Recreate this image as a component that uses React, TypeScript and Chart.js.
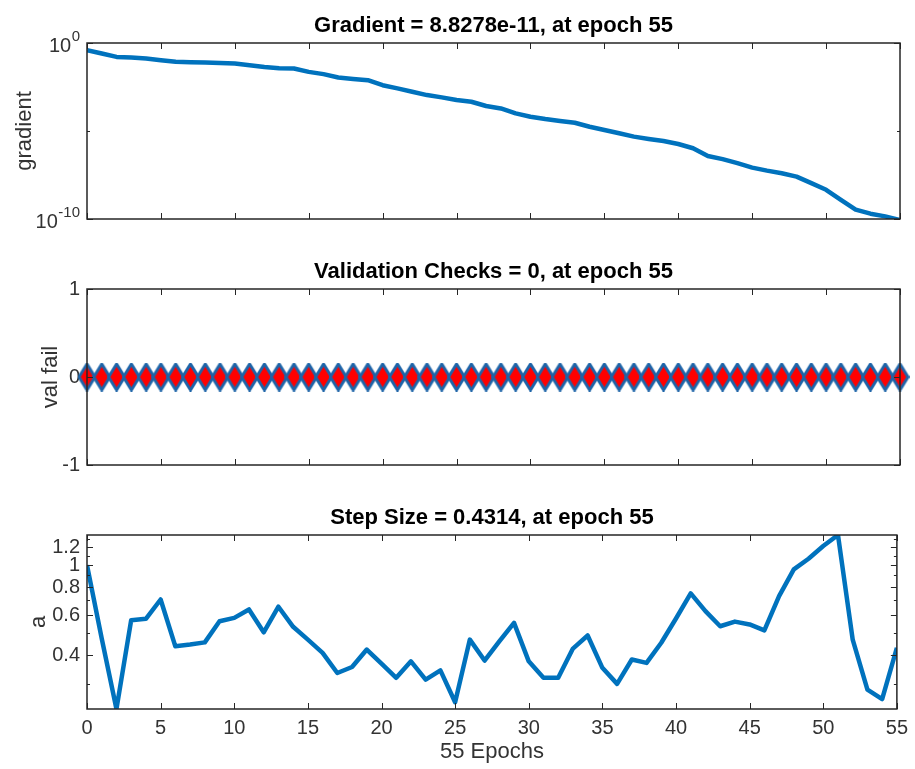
import React, { useEffect, useRef } from "react";
import { Chart, registerables } from "chart.js";

Chart.register(...registerables);

// ---- data -------------------------------------------------------------
const epochs = [
  0, 1, 2, 3, 4, 5, 6, 7, 8, 9, 10, 11, 12, 13, 14, 15, 16, 17, 18, 19, 20,
  21, 22, 23, 24, 25, 26, 27, 28, 29, 30, 31, 32, 33, 34, 35, 36, 37, 38, 39,
  40, 41, 42, 43, 44, 45, 46, 47, 48, 49, 50, 51, 52, 53, 54, 55,
];

const gradient = [
  0.389, 0.251, 0.162, 0.148, 0.132, 0.105, 0.0851, 0.0813, 0.0776, 0.0741,
  0.0676, 0.055, 0.0437, 0.0372, 0.0355, 0.0229, 0.017, 0.011, 0.00912,
  0.00776, 0.00398, 0.00263, 0.0017, 0.0011, 0.000813, 0.000575, 0.000457,
  0.000263, 0.000191, 0.0001, 6.46e-5, 4.79e-5, 3.72e-5, 2.95e-5, 1.74e-5,
  1.15e-5, 7.41e-6, 4.79e-6, 3.55e-6, 2.69e-6, 1.82e-6, 1.05e-6, 3.8e-7,
  2.51e-7, 1.48e-7, 8.32e-8, 5.62e-8, 3.98e-8, 2.57e-8, 1.1e-8, 4.57e-9,
  1.23e-9, 3.39e-10, 2.0e-10, 1.41e-10, 8.8278e-11,
];

const valFail = [
  0, 0, 0, 0, 0, 0, 0, 0, 0, 0, 0, 0, 0, 0, 0, 0, 0, 0, 0, 0, 0, 0, 0, 0, 0,
  0, 0, 0, 0, 0, 0, 0, 0, 0, 0, 0, 0, 0, 0, 0, 0, 0, 0, 0, 0, 0, 0, 0, 0, 0,
  0, 0, 0, 0, 0, 0,
];

const stepSize = [
  1.0, 0.474, 0.2316, 0.571, 0.579, 0.705, 0.438, 0.446, 0.456, 0.565, 0.585,
  0.637, 0.505, 0.655, 0.534, 0.469, 0.41, 0.334, 0.355, 0.424, 0.367, 0.318,
  0.376, 0.312, 0.343, 0.248, 0.469, 0.379, 0.461, 0.556, 0.376, 0.318, 0.318,
  0.428, 0.489, 0.352, 0.299, 0.383, 0.37, 0.454, 0.581, 0.75, 0.626, 0.537,
  0.563, 0.547, 0.515, 0.729, 0.957, 1.067, 1.214, 1.358, 0.469, 0.282, 0.256,
  0.4314,
];

const epochTicks = [0, 5, 10, 15, 20, 25, 30, 35, 40, 45, 50, 55];
const gradientTicks = [1e-10, 1e0];
const gradientMinorTicks = [1e-5];
const gradientTickExponents = ["-10", "0"];
const valFailTicks = [-1, 0, 1];
const stepTicks = [0.4, 0.6, 0.8, 1, 1.2];
const stepMinorTicks = [0.3, 0.5, 0.7, 0.9, 1.1, 1.3];

const gradientTitle = "Gradient = 8.8278e-11, at epoch 55";
const valFailTitle = "Validation Checks = 0, at epoch 55";
const stepTitle = "Step Size = 0.4314, at epoch 55";

// ---- styling ----------------------------------------------------------
const W = 915;
const PLOT_LEFT = 87;
const PLOT_RIGHT = 900;
const BLUE = "#0072BD";
const MARKER_EDGE = "#1d64a8";
const RED = "#ff0000";
const AXIS = "#262626";
const TEXT = "#333333";
const FONT = "'Liberation Sans', Arial, Helvetica, sans-serif";

// Box, inward tick marks, titles and axis labels in the classic figure style.
const figureAxes = {
  id: "figureAxes",
  afterDraw(chart: any, _args: any, opts: any) {
    const { ctx, chartArea: a, scales } = chart;
    const xs = scales.x;
    const ys = scales.y;
    ctx.save();

    // tick marks pointing into the box on all four sides
    ctx.strokeStyle = AXIS;
    ctx.lineWidth = 1;
    ctx.beginPath();
    for (const v of epochTicks) {
      const px = Math.round(xs.getPixelForValue(v)) + 0.5;
      ctx.moveTo(px, a.bottom);
      ctx.lineTo(px, a.bottom - 6);
      ctx.moveTo(px, a.top);
      ctx.lineTo(px, a.top + 6);
    }
    for (const v of opts.yMajor || []) {
      const py = Math.round(ys.getPixelForValue(v)) + 0.5;
      ctx.moveTo(a.left, py);
      ctx.lineTo(a.left + 6, py);
      ctx.moveTo(a.right, py);
      ctx.lineTo(a.right - 6, py);
    }
    for (const v of opts.yMinor || []) {
      const py = Math.round(ys.getPixelForValue(v)) + 0.5;
      ctx.moveTo(a.left, py);
      ctx.lineTo(a.left + 3, py);
      ctx.moveTo(a.right, py);
      ctx.lineTo(a.right - 3, py);
    }
    ctx.stroke();

    // axes box
    ctx.lineWidth = 1.5;
    ctx.strokeRect(a.left, a.top, a.right - a.left, a.bottom - a.top);

    // title
    ctx.fillStyle = "#000";
    ctx.font = `bold 22px ${FONT}`;
    ctx.textAlign = "center";
    ctx.textBaseline = "middle";
    ctx.fillText(opts.title, (a.left + a.right) / 2, a.top - 17.5);

    // y label
    ctx.fillStyle = TEXT;
    ctx.font = `22px ${FONT}`;
    ctx.save();
    ctx.translate(opts.yLabelX, (a.top + a.bottom) / 2);
    ctx.rotate(-Math.PI / 2);
    ctx.fillText(opts.yLabel, 0, 0);
    ctx.restore();

    // x label
    if (opts.xLabel) {
      ctx.fillText(opts.xLabel, (a.left + a.right) / 2, a.bottom + 43);
    }

    // power-of-ten tick labels
    if (opts.powerLabels) {
      const right = a.left - 7;
      opts.powerLabels.forEach((p: { value: number; exp: string }) => {
        const py = ys.getPixelForValue(p.value);
        ctx.font = `15px ${FONT}`;
        ctx.textAlign = "right";
        const supW = ctx.measureText(p.exp).width;
        ctx.fillText(p.exp, right, py - 6.5);
        ctx.font = `20px ${FONT}`;
        ctx.fillText("10", right - supW - 0.5, py + 3);
      });
    }

    ctx.restore();
  },
};

// Filled diamond marker used for the validation-check series.
function makeDiamond(): HTMLCanvasElement {
  const c = document.createElement("canvas");
  c.width = 19;
  c.height = 29;
  const g = c.getContext("2d")!;
  g.beginPath();
  g.moveTo(9.5, 1.5);
  g.lineTo(17.5, 14.5);
  g.lineTo(9.5, 27.5);
  g.lineTo(1.5, 14.5);
  g.closePath();
  g.fillStyle = RED;
  g.fill();
  g.lineWidth = 3;
  g.lineJoin = "round";
  g.strokeStyle = MARKER_EDGE;
  g.stroke();
  return c;
}

type PanelSpec = {
  height: number;
  plotTop: number;
  plotBottom: number;
  yScale: any;
  showXLabels: boolean;
  dataset: any;
  axesOpts: any;
  yTickValues: number[] | null;
  yTickFormat?: (v: number) => string;
};

function buildChart(canvas: HTMLCanvasElement, spec: PanelSpec) {
  const H = spec.height;
  return new Chart(canvas, {
    type: "line",
    data: { datasets: [spec.dataset] },
    options: {
      animation: false,
      responsive: false,
      maintainAspectRatio: false,
      devicePixelRatio: 1,
      events: [],
      layout: {
        padding: { left: 0, right: W - PLOT_RIGHT, top: spec.plotTop, bottom: 0 },
      },
      plugins: {
        legend: { display: false },
        tooltip: { enabled: false },
        title: { display: false },
        figureAxes: spec.axesOpts,
      } as any,
      scales: {
        x: {
          type: "linear",
          min: 0,
          max: 55,
          grid: { display: false, drawTicks: false },
          border: { display: false },
          ticks: {
            display: spec.showXLabels,
            autoSkip: false,
            maxRotation: 0,
            padding: 7,
            color: TEXT,
            font: { family: FONT, size: 20 },
            callback: (v: any) => String(v),
          },
          afterBuildTicks: (s: any) => {
            s.ticks = epochTicks.map((v) => ({ value: v }));
          },
          afterFit: (s: any) => {
            s.height = H - spec.plotBottom;
          },
        },
        y: {
          ...spec.yScale,
          grid: { display: false, drawTicks: false },
          border: { display: false },
          ticks: {
            display: spec.yTickValues !== null,
            autoSkip: false,
            padding: 7,
            color: TEXT,
            font: { family: FONT, size: 20 },
            callback: (v: any) => (spec.yTickFormat ? spec.yTickFormat(Number(v)) : String(v)),
          },
          afterBuildTicks: (s: any) => {
            if (spec.yTickValues) s.ticks = spec.yTickValues.map((v) => ({ value: v }));
          },
          afterFit: (s: any) => {
            s.width = PLOT_LEFT;
          },
        },
      } as any,
    },
    plugins: [figureAxes],
  });
}

const toPoints = (ys: number[]) => epochs.map((e, i) => ({ x: e, y: ys[i] }));

export default function App() {
  const c1 = useRef<HTMLCanvasElement>(null);
  const c2 = useRef<HTMLCanvasElement>(null);
  const c3 = useRef<HTMLCanvasElement>(null);

  useEffect(() => {
    const charts: Chart[] = [];

    charts.push(
      buildChart(c1.current!, {
        height: 250,
        plotTop: 43,
        plotBottom: 219,
        yScale: { type: "logarithmic", min: 1e-10, max: 1 },
        showXLabels: false,
        yTickValues: null,
        dataset: {
          data: toPoints(gradient),
          borderColor: BLUE,
          borderWidth: 4.5,
          pointRadius: 0,
          tension: 0,
          borderJoinStyle: "round",
        },
        axesOpts: {
          title: gradientTitle,
          yLabel: "gradient",
          yLabelX: 25,
          yMajor: gradientTicks,
          yMinor: gradientMinorTicks,
          powerLabels: gradientTicks.map((v, i) => ({ value: v, exp: gradientTickExponents[i] })),
        },
      })
    );

    charts.push(
      buildChart(c2.current!, {
        height: 250,
        plotTop: 39,
        plotBottom: 215,
        yScale: { type: "linear", min: -1, max: 1 },
        showXLabels: false,
        yTickValues: valFailTicks,
        dataset: {
          data: toPoints(valFail),
          borderColor: BLUE,
          borderWidth: 2,
          pointStyle: makeDiamond(),
          pointRadius: 9,
          tension: 0,
          clip: false,
        },
        axesOpts: {
          title: valFailTitle,
          yLabel: "val fail",
          yLabelX: 51,
          yMajor: valFailTicks,
        },
      })
    );

    charts.push(
      buildChart(c3.current!, {
        height: 269,
        plotTop: 35,
        plotBottom: 209,
        yScale: {
          type: "logarithmic",
          min: Math.min(...stepSize),
          max: Math.max(...stepSize),
        },
        showXLabels: true,
        yTickValues: stepTicks,
        yTickFormat: (v) => String(Math.round(v * 10) / 10),
        dataset: {
          data: toPoints(stepSize),
          borderColor: BLUE,
          borderWidth: 4.5,
          pointRadius: 0,
          tension: 0,
          borderJoinStyle: "round",
        },
        axesOpts: {
          title: stepTitle,
          yLabel: "a",
          yLabelX: 39,
          xLabel: "55 Epochs",
          yMajor: stepTicks,
          yMinor: stepMinorTicks,
        },
      })
    );

    return () => charts.forEach((c) => c.destroy());
  }, []);

  const canvasStyle = (top: number): React.CSSProperties => ({
    position: "absolute",
    left: 0,
    top,
    display: "block",
  });

  return (
    <div
      style={{
        position: "fixed",
        left: 0,
        top: 0,
        width: W,
        height: 769,
        background: "#fff",
        overflow: "hidden",
      }}
    >
      <canvas ref={c1} width={W} height={250} style={canvasStyle(0)} />
      <canvas ref={c2} width={W} height={250} style={canvasStyle(250)} />
      <canvas ref={c3} width={W} height={269} style={canvasStyle(500)} />
    </div>
  );
}
